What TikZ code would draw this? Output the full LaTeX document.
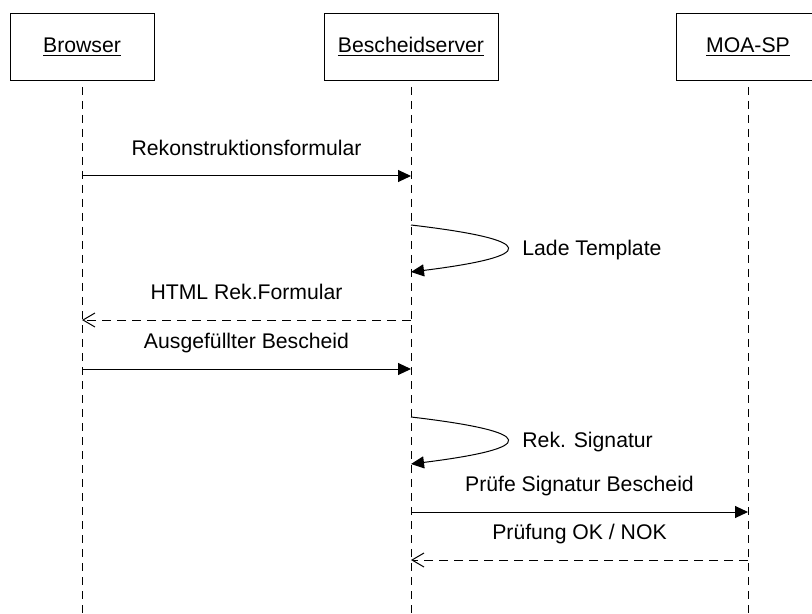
\documentclass[tikz,border=0pt]{standalone}
\usepackage{fontspec}
\setmainfont{Liberation Sans}
\usetikzlibrary{arrows.meta}
\usetikzlibrary{calc}
\tikzset{call/.style={-{Triangle[length=6.5pt,width=6pt]}, line width=0.5pt}}
\tikzset{reply/.style={-{Straight Barb[length=6pt,width=7pt]}, line width=0.5pt, dash pattern=on 4.5pt off 3pt}}
\tikzstyle{lifeline} = [line width=0.5pt, dash pattern=on 4pt off 3pt, dash phase=4pt]
\tikzstyle{actor} = [rectangle, draw, line width=0.5pt, minimum height=33.5pt, inner sep=0pt, anchor=north]
\tikzstyle{msglabel} = [anchor=base, yshift=10.25pt, inner sep=0pt]
\tikzstyle{selflabel} = [anchor=base west, inner sep=0pt]

\begin{document}
\begin{tikzpicture}[x=0.5pt, y=-0.5pt]
  \tikzstyle{every node}=[font=\fontsize{10.6}{12}\selectfont]
  \clip (0,0) rectangle (812,614);
  \node [actor, minimum width=72pt] (browser) at (82,13)  {\underline{Browser}};
  \node [actor, minimum width=87pt] (server)  at (411,13) {\underline{Bescheidserver}};
  \node [actor, minimum width=72pt] (moasp)   at (748,13) {\underline{MOA-SP}};

  \coordinate (browserend) at (82,614);
  \coordinate (serverend)  at (411,614);
  \coordinate (moaspend)   at (748,614);
  \draw [lifeline] (browser.south) -- (browserend);
  \draw [lifeline] (server.south)  -- (serverend);
  \draw [lifeline] (moasp.south)   -- (moaspend);

  % message points on the lifelines
  \coordinate (b1)  at (82,176);   \coordinate (s1)  at (411,176);
  \coordinate (s2a) at (411,225);  \coordinate (s2b) at (411,272);
  \coordinate (s3)  at (411,320);  \coordinate (b3)  at (82,320);
  \coordinate (b4)  at (82,369);   \coordinate (s4)  at (411,369);
  \coordinate (s5a) at (411,417);  \coordinate (s5b) at (411,464);
  \coordinate (s6)  at (411,512);  \coordinate (m6)  at (748,512);
  \coordinate (m7)  at (748,560);  \coordinate (s7)  at (411,560);

  \draw [call]  (b1) -- node [msglabel] (rekform) {Rekonstruktionsformular} (s1);
  \draw [call]  (s2a) .. controls (539,240) and (539,256) .. (s2b);
  \node [selflabel] (ladetpl) at (522,255.5) {Lade Template};
  \draw [reply] (s3) -- node [msglabel] (htmlform) {HTML Rek.Formular} (b3);
  \draw [call]  (b4) -- node [msglabel] (ausgef) {Ausgefüllter Bescheid} (s4);
  \draw [call]  (s5a) .. controls (539,432) and (539,448) .. (s5b);
  \node [selflabel] (reksig) at (522,447.5) {Rek. Signatur};
  \draw [call]  (s6) -- node [msglabel] (pruefe) {Prüfe Signatur Bescheid} (m6);
  \draw [reply] (m7) -- node [msglabel] (pruefok) {Prüfung OK / NOK} (s7);
\end{tikzpicture}
\end{document}
